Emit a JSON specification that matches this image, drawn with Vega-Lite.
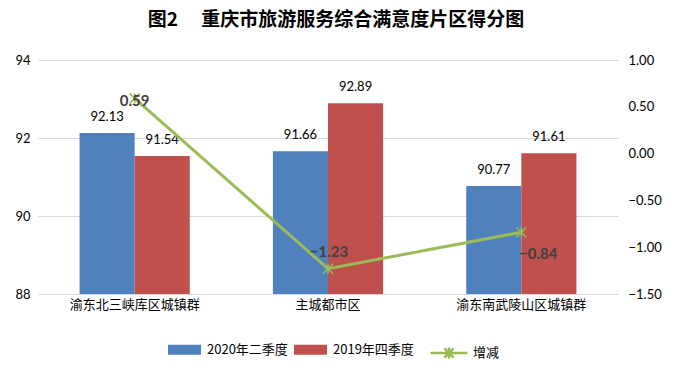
{
  "$schema": "https://vega.github.io/schema/vega-lite/v6.json",
  "autosize": {"type": "none"},
  "width": 580,
  "height": 234,
  "padding": {"left": 38, "top": 60, "right": 55, "bottom": 79},
  "background": "white",
  "title": {
    "text": "图2　 重庆市旅游服务综合满意度片区得分图",
    "font": "Noto Sans CJK SC",
    "fontSize": 19,
    "fontWeight": "bold",
    "color": "#000000",
    "anchor": "middle",
    "frame": "group",
    "dx": 8,
    "offset": 24
  },
  "datasets": {
    "bars": [
      {"region": "渝东北三峡库区城镇群", "series": "2020年二季度", "value": 92.13},
      {"region": "渝东北三峡库区城镇群", "series": "2019年四季度", "value": 91.54},
      {"region": "主城都市区", "series": "2020年二季度", "value": 91.66},
      {"region": "主城都市区", "series": "2019年四季度", "value": 92.89},
      {"region": "渝东南武陵山区城镇群", "series": "2020年二季度", "value": 90.77},
      {"region": "渝东南武陵山区城镇群", "series": "2019年四季度", "value": 91.61}
    ],
    "diffs": [
      {"region": "渝东北三峡库区城镇群", "diff": 0.59},
      {"region": "主城都市区", "diff": -1.23},
      {"region": "渝东南武陵山区城镇群", "diff": -0.84}
    ]
  },
  "encoding": {
    "x": {
      "field": "region",
      "type": "nominal",
      "sort": ["渝东北三峡库区城镇群", "主城都市区", "渝东南武陵山区城镇群"],
      "scale": {"paddingInner": 0.43, "paddingOuter": 0.215},
      "axis": {
        "title": null,
        "labelAngle": 0,
        "labelFont": "Noto Sans CJK SC",
        "labelFontSize": 13,
        "labelColor": "#000000",
        "labelOverlap": false,
        "labelLimit": 0,
        "ticks": false,
        "domain": false,
        "labelPadding": 4
      }
    }
  },
  "layer": [
    {
      "data": {"name": "bars"},
      "encoding": {
        "xOffset": {"field": "series", "type": "nominal", "sort": ["2020年二季度", "2019年四季度"], "scale": {"paddingInner": 0, "paddingOuter": 0}},
        "y": {
          "field": "value",
          "type": "quantitative",
          "scale": {"domain": [88, 94], "zero": false, "nice": false},
          "axis": {
            "title": null,
            "orient": "left",
            "values": [88, 90, 92, 94],
            "labelFont": "Lato",
            "labelFontSize": 13,
            "labelColor": "#000000",
            "ticks": false,
            "domain": false,
            "labelPadding": 8,
            "gridColor": "#D9D9D9",
            "gridWidth": 1
          }
        }
      },
      "layer": [
        {
          "mark": {"type": "bar", "clip": true},
          "encoding": {
            "color": {
              "field": "series",
              "type": "nominal",
              "sort": ["2020年二季度", "2019年四季度"],
              "scale": {"domain": ["2020年二季度", "2019年四季度"], "range": ["#4F81BD", "#C0504D"]},
              "legend": {
                "title": null,
                "orient": "none",
                "direction": "horizontal",
                "legendX": 130,
                "legendY": 273,
                "padding": 0,
                "symbolType": "M-1,-0.3H1V0.3H-1Z",
                "symbolSize": 1089,
                "symbolStrokeWidth": 0,
                "symbolOpacity": 1,
                "labelFont": "Noto Sans CJK SC",
                "labelFontSize": 13,
                "labelColor": "#000000",
                "labelOffset": 6,
                "columnPadding": 6
              }
            }
          }
        },
        {
          "mark": {"type": "text", "baseline": "bottom", "dy": -9, "font": "Lato", "fontSize": 13, "color": "#000000"},
          "encoding": {
            "text": {"field": "value", "type": "quantitative", "format": ".2f"}
          }
        }
      ]
    },
    {
      "data": {"name": "diffs"},
      "encoding": {
        "y": {
          "field": "diff",
          "type": "quantitative",
          "scale": {"domain": [-1.5, 1], "zero": false, "nice": false},
          "axis": {
            "title": null,
            "orient": "right",
            "values": [-1.5, -1, -0.5, 0, 0.5, 1],
            "format": ".2f",
            "grid": false,
            "labelFont": "Lato",
            "labelFontSize": 13,
            "labelColor": "#000000",
            "ticks": false,
            "domain": false,
            "labelPadding": 10
          }
        }
      },
      "layer": [
        {
          "mark": {"type": "line", "strokeWidth": 3},
          "encoding": {
            "stroke": {
              "datum": "增减",
              "scale": {"domain": ["增减"], "range": ["#9BBB59"]},
              "legend": {
                "title": null,
                "orient": "none",
                "direction": "horizontal",
                "legendX": 391,
                "legendY": 273,
                "padding": 0,
                "symbolType": "M-1,0H1M-0.25,-0.25L0.25,0.25M-0.25,0.25L0.25,-0.25M0,-0.3V0.3",
                "symbolSize": 1369,
                "symbolStrokeWidth": 2.5,
                "symbolFillColor": "transparent",
                "labelFont": "Noto Sans CJK SC",
                "labelFontSize": 13,
                "labelColor": "#000000",
                "labelOffset": 4
              }
            }
          }
        },
        {
          "mark": {"type": "point", "shape": "M-1,-1L1,1M-1,1L1,-1M0,-1V1", "size": 100, "filled": false, "stroke": "#9BBB59", "strokeWidth": 1.5, "opacity": 1}
        },
        {
          "transform": [{"filter": "datum.diff == 0.59"}],
          "mark": {"type": "text", "baseline": "middle", "dy": 3, "font": "Lato", "fontSize": 15, "fontWeight": "bold", "color": "#404040"},
          "encoding": {"text": {"field": "diff", "type": "quantitative", "format": ".2f"}}
        },
        {
          "transform": [{"filter": "datum.diff == -1.23"}],
          "mark": {"type": "text", "baseline": "middle", "dy": -17, "dx": 1, "font": "Lato", "fontSize": 15, "fontWeight": "bold", "color": "#404040"},
          "encoding": {"text": {"field": "diff", "type": "quantitative", "format": ".2f"}}
        },
        {
          "transform": [{"filter": "datum.diff == -0.84"}],
          "mark": {"type": "text", "baseline": "middle", "dy": 22, "dx": 17, "font": "Lato", "fontSize": 15, "fontWeight": "bold", "color": "#404040"},
          "encoding": {"text": {"field": "diff", "type": "quantitative", "format": ".2f"}}
        }
      ]
    }
  ],
  "resolve": {"scale": {"y": "independent"}},
  "config": {
    "view": {"stroke": null}
  }
}
